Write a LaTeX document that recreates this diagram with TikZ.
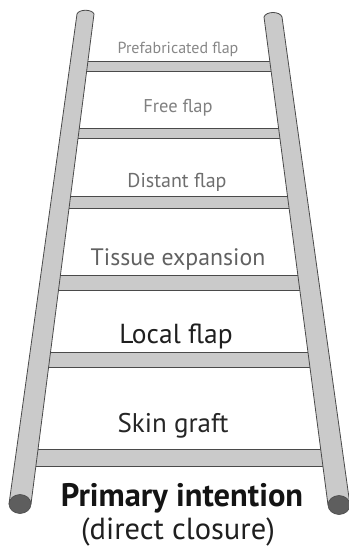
\documentclass[tikz,border=0pt]{standalone}
\usepackage{fontspec}
\setmainfont{PT Sans}
\usetikzlibrary{positioning}

\definecolor{railgray}{HTML}{CACACA}
\definecolor{edgegray}{HTML}{4A4A4A}
\definecolor{capgray}{HTML}{5E5E5E}

\begin{document}
\begin{tikzpicture}[x=1pt,y=-1pt,
    rail/.style={fill=railgray,draw=edgegray,line width=0.8pt},
    rung/.style={fill=railgray,draw=edgegray,line width=0.7pt},
    railend/.style={fill=capgray,draw=edgegray,line width=0.6pt},
    rungtext/.style={anchor=base,inner sep=0pt}]
    \useasboundingbox (0,0) rectangle (348,548);

    % 横档
    \draw[rung] (79,61) rectangle (279,71);
    \draw[rung] (70,128) rectangle (288,138);
    \draw[rung] (61,196) rectangle (297,208);
    \draw[rung] (50,275) rectangle (308,290);
    \draw[rung] (40,352) rectangle (319,367);
    \draw[rung] (27,449) rectangle (332,466);

    % 左边和右边的杆
    \draw[rail] (9,504) -- (77,14) .. controls (79,9) and (92,9) .. (94,14) -- (31,504) -- cycle;
    \draw[railend] (20,504) ellipse (11 and 9.5);
    \draw[rail] (328,505) -- (264,17) .. controls (266,11) and (280,11) .. (282,17) -- (350,505) -- cycle;
    \draw[railend] (339,505) ellipse (11 and 9.5);

    % 每一档的文字
    \node[rungtext,font=\fontsize{16}{16}\selectfont,text=black!47] (prefab) at (178,54) {Prefabricated flap};
    \node[rungtext,font=\fontsize{18.5}{19}\selectfont,text=black!50] (free) at (178,113) {Free flap};
    \node[rungtext,font=\fontsize{20}{20}\selectfont,text=black!57] (distant) at (177,187) {Distant flap};
    \node[rungtext,font=\fontsize{23.8}{24}\selectfont,text=black!62] (tissue) at (178,265) {Tissue expansion};
    \node[rungtext,font=\fontsize{27.5}{28}\selectfont,text=black!88] (local) at (176,343) {Local flap};
    \node[rungtext,font=\fontsize{27}{27}\selectfont,text=black!85] (skin) at (173,432) {Skin graft};
    \node[rungtext,font=\bfseries\fontsize{32.5}{33}\selectfont,text=black!92] (primary) at (182,506) {Primary intention};
    \node[rungtext,font=\fontsize{30.5}{31}\selectfont,text=black!88] (closure) at (178,539) {(direct closure)};
\end{tikzpicture}
\end{document}
